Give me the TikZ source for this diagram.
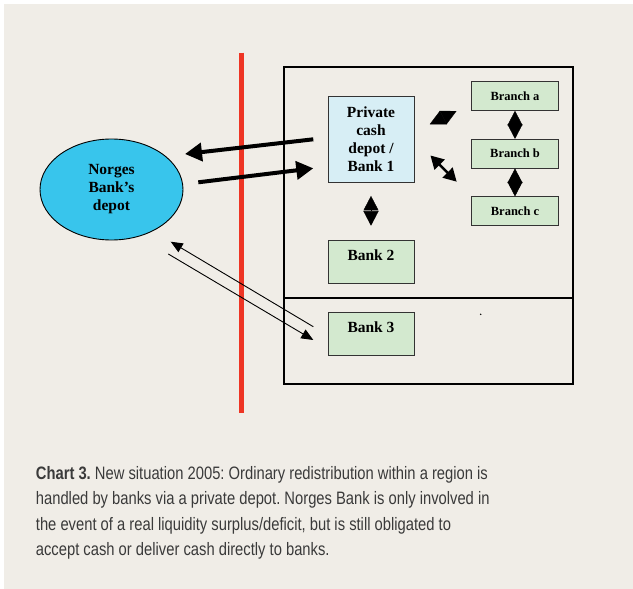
\documentclass[tikz,border=0pt]{standalone}
\usepackage{fontspec}
\setmainfont{Liberation Serif}
\newfontfamily\capfont[FakeStretch=0.82]{Liberation Sans}
\usetikzlibrary{arrows.meta,shapes.geometric}
\definecolor{bgbeige}{HTML}{F0EDE7}
\definecolor{nbblue}{HTML}{38C5EC}
\definecolor{privblue}{HTML}{D7EEF5}
\definecolor{bankgreen}{HTML}{D3E9CF}
\definecolor{borderred}{HTML}{EE3524}
\definecolor{captext}{HTML}{3A3A3A}
\tikzset{
  box/.style={draw=black!80, line width=0.9pt, inner sep=0pt, align=center, font=\fontsize{15.5}{18}\selectfont\bfseries},
  bankbox/.style={box, fill=bankgreen, minimum width=86pt, text height=20.3pt, text depth=23pt},
  branchbox/.style={box, fill=bankgreen, minimum width=86.3pt, minimum height=28.7pt, font=\fontsize{12.5}{14}\selectfont\bfseries},
  dia/.style={{Triangle[length=14.5pt,width=15pt]}-{Triangle[length=14.5pt,width=15pt]}, line width=0.4pt},
  bigarr/.style={-{Triangle[length=17pt,width=18pt]}, line width=4pt},
  thinarr/.style={-{Triangle[length=12pt,width=10pt]}, line width=0.9pt}
}
\frenchspacing
\begin{document}
\begin{tikzpicture}[x=1pt,y=-1pt]
\useasboundingbox (0,0) rectangle (633,589);
\fill[white] (0,0) rectangle (633,589);
\fill[bgbeige] (3.5,4) rectangle (632.5,589);
\draw[borderred, line width=4.5pt] (241.5,52.7) -- (241.5,412.7);
\draw[line width=2pt] (284.3,67) rectangle (572.7,384);
\draw[line width=2pt] (284.3,298.3) -- (572.7,298.3);
\fill (480.7,314.3) circle (0.8pt);
\node[ellipse, draw, line width=0.9pt, fill=nbblue, minimum width=143pt, minimum height=101pt, inner sep=0pt, align=center, font=\fontsize{15.5}{18}\selectfont\bfseries] (depot) at (111.5,189.5){Norges\\Bank’s\\depot};
\node[box, fill=privblue, minimum width=86pt, minimum height=86.5pt] (priv) at (371,139.5){Private\\cash\\depot /\\Bank 1};
\node[bankbox, anchor=north] (bank2) at (371,240){Bank 2};
\node[bankbox, anchor=north] (bank3) at (371,311.7){Bank 3};
\node[branchbox] (bra) at (515,96){Branch a};
\node[branchbox] (brb) at (515,153.7){Branch b};
\node[branchbox] (brc) at (515,211.2){Branch c};
\draw[dia](bra) -- (brb);
\draw[dia](brb) -- (brc);
\draw[dia, shorten <=12.7pt, shorten >=14.3pt](priv) -- (bank2);
\draw[{Triangle[length=15pt,width=15pt]}-{Triangle[length=15pt,width=15pt]}, line width=0.4pt, shorten <=17.1pt, shorten >=16.6pt](priv.10) -- (bra.190);
\draw[{Triangle[length=13pt,width=14pt]}-{Triangle[length=13pt,width=14pt]}, line width=2.5pt, shorten <=22.6pt, shorten >=20.8pt](priv.east) -- (brc.north west);
\coordinate (out0) at (313.3,139.3);
\coordinate (in0) at (185,154);
\coordinate (out1) at (198.3,182.3);
\coordinate (in1) at (313.3,168.3);
\coordinate (out2) at (313.3,326.7);
\coordinate (in2) at (170.7,241.7);
\coordinate (out3) at (168.3,254);
\coordinate (in3) at (313.3,340);
\draw[bigarr](out0) -- (in0);
\draw[bigarr](out1) -- (in1);
\draw[thinarr](out2) -- (in2);
\draw[thinarr](out3) -- (in3);
\node[anchor=north west, inner sep=0pt, align=left, text=captext, font=\capfont\fontsize{18}{25.5}\selectfont] (caption) at (35.7,466){\textbf{Chart 3.} New situation 2005: Ordinary redistribution within a region is\\handled by banks via a private depot. Norges Bank is only involved in\\the event of a real liquidity surplus/deficit, but is still obligated to\\accept cash or deliver cash directly to banks.};
\end{tikzpicture}
\end{document}
